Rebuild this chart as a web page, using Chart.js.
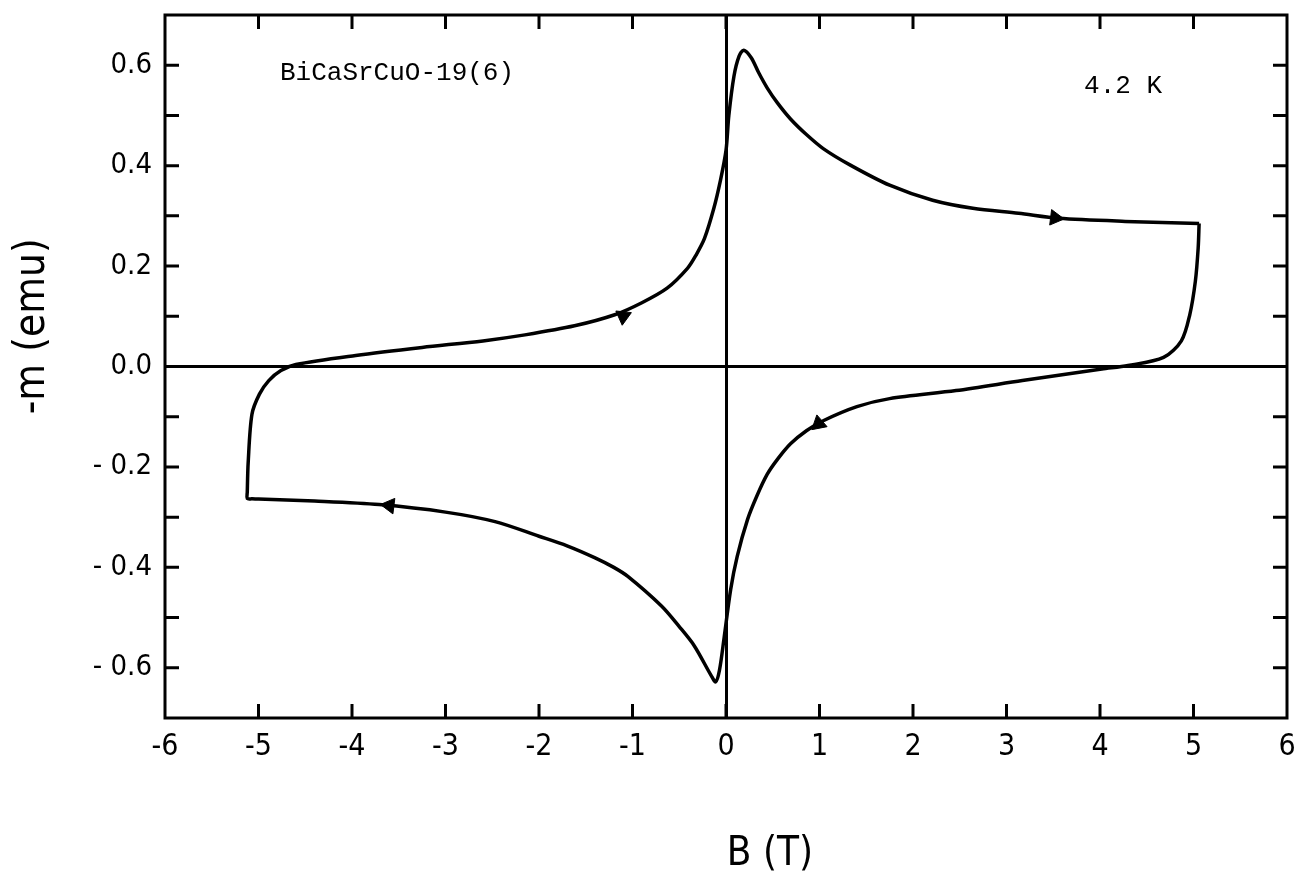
<!DOCTYPE html>
<html>
<head>
<meta charset="utf-8">
<script src="https://cdn.jsdelivr.net/npm/chart.js@4/dist/chart.umd.min.js"></script>
<style>
  html, body { margin: 0; padding: 0; background: #fff; }
</style>
</head>
<body>
<canvas id="loopChart" width="1297" height="875"></canvas>
<script>
// hysteresis loop (field B in T, -m in emu)
const fieldB = [5.06, 5.05, 5.02, 4.96, 4.87, 4.68, 4.30, 4.02, 3.17, 2.46, 1.75, 1.40, 1.04, 0.86, 0.69, 0.55, 0.44, 0.33,
  0.23, 0.12, 0.05, -0.02, -0.07, -0.11, -0.16, -0.34, -0.50, -0.69, -1.05, -1.20, -1.40, -1.70, -2.00, -2.47, -3.00, -3.71, -4.40,
  -5.00, -5.07, -5.12, -5.12, -5.11, -5.07, -4.99, -4.89, -4.76, -4.60, -3.96, -3.25, -2.60, -2.15, -1.62, -1.19, -0.90, -0.63, -0.41,
  -0.32, -0.23, -0.13, -0.06, 0.00, 0.03, 0.085, 0.14, 0.19, 0.27, 0.35, 0.44, 0.55, 0.69, 0.86, 1.04, 1.33, 1.75, 2.21, 2.64, 3.13, 3.56,
  4.27, 5.06];
const minusM = [0.285, 0.236, 0.170, 0.103, 0.051, 0.018, 0.002, -0.005, -0.028, -0.048, -0.064, -0.080, -0.108, -0.128, -0.154, -0.185, -0.215, -0.258,
  -0.305, -0.378, -0.444, -0.540, -0.605, -0.628, -0.615, -0.556, -0.518, -0.477, -0.418, -0.400, -0.381, -0.357, -0.338, -0.309, -0.290, -0.275, -0.268,
  -0.264, -0.2635, -0.263, -0.250, -0.190, -0.095, -0.055, -0.028, -0.008, 0.004, 0.022, 0.038, 0.051, 0.063, 0.081, 0.103, 0.127, 0.156, 0.196,
  0.222, 0.255, 0.315, 0.370, 0.430, 0.499, 0.578, 0.618, 0.630, 0.615, 0.585, 0.555, 0.525, 0.493, 0.462, 0.434, 0.401, 0.361, 0.331, 0.315, 0.305, 0.295,
  0.289, 0.285];

// direction arrows on the loop
const arrowB = [3.52, -1.10, 0.99, -3.60];
const arrowM = [0.296, 0.100, -0.114, -0.277];
const arrowAngle = [97, 66, 229, 277];

const xTickValues = [-6, -5, -4, -3, -2, -1, 0, 1, 2, 3, 4, 5, 6];
const yTickValues = [-0.7, -0.6, -0.5, -0.4, -0.3, -0.2, -0.1, 0, 0.1, 0.2, 0.3, 0.4, 0.5, 0.6, 0.7];

const sampleLabel = "BiCaSrCuO-19(6)";
const tempLabel = "4.2 K";
const xTitle = "B (T)";
const yTitle = "-m (emu)";

const numFont = '"Liberation Sans Narrow", "DejaVu Sans Condensed", "DejaVu Sans", sans-serif';

const loopPoints = fieldB.map((b, i) => ({ x: b, y: minusM[i] }));
const arrowPoints = arrowB.map((b, i) => ({ x: b, y: arrowM[i] }));

// frame, inward ticks on all four sides, and the texts
const frameTicks = {
  id: "frameTicks",
  afterDraw(chart) {
    const { ctx, chartArea: a, scales: { x, y } } = chart;
    ctx.save();
    ctx.strokeStyle = "#000";
    ctx.lineWidth = 3;
    ctx.strokeRect(a.left, a.top, a.right - a.left, a.bottom - a.top);
    ctx.beginPath();
    x.ticks.forEach(t => {
      if (t.value === -6 || t.value === 6) return;
      const px = x.getPixelForValue(t.value);
      ctx.moveTo(px, a.bottom); ctx.lineTo(px, a.bottom - 14);
      ctx.moveTo(px, a.top); ctx.lineTo(px, a.top + 14);
    });
    y.ticks.forEach(t => {
      if (Math.abs(t.value) > 0.65) return;
      const py = y.getPixelForValue(t.value);
      ctx.moveTo(a.left, py); ctx.lineTo(a.left + 14, py);
      ctx.moveTo(a.right, py); ctx.lineTo(a.right - 14, py);
    });
    ctx.stroke();

    ctx.fillStyle = "#000";
    ctx.textBaseline = "middle";
    ctx.textAlign = "left";
    ctx.font = '26px "Liberation Mono", "DejaVu Sans Mono", monospace';
    ctx.fillText(sampleLabel, x.getPixelForValue(-4.77), y.getPixelForValue(0.585));
    ctx.fillText(tempLabel, x.getPixelForValue(3.83), y.getPixelForValue(0.558));

    ctx.font = "40px " + numFont;
    ctx.textAlign = "center";
    ctx.fillText(xTitle, x.getPixelForValue(0.47), 855);
    ctx.font = "42px " + numFont;
    ctx.translate(33, y.getPixelForValue(0.08));
    ctx.rotate(-Math.PI / 2);
    ctx.fillText(yTitle, 0, 0);
    ctx.restore();
  }
};

new Chart(document.getElementById("loopChart"), {
  type: "scatter",
  data: {
    datasets: [
      {
        data: loopPoints,
        showLine: true,
        borderColor: "#000",
        borderWidth: 3.5,
        pointRadius: 0,
        tension: 0.3,
        fill: false
      },
      {
        data: arrowPoints,
        showLine: false,
        pointStyle: "triangle",
        rotation: arrowAngle,
        pointRadius: 9,
        backgroundColor: "#000",
        borderColor: "#000",
        borderWidth: 1
      }
    ]
  },
  options: {
    responsive: false,
    animation: false,
    devicePixelRatio: 1,
    layout: { padding: { top: 15, right: 9, left: 0, bottom: 0 } },
    plugins: { legend: { display: false }, tooltip: { enabled: false } },
    scales: {
      x: {
        type: "linear",
        min: -6,
        max: 6,
        afterBuildTicks: s => { s.ticks = xTickValues.map(v => ({ value: v })); },
        afterFit: s => { s.height = 157; s.paddingLeft = 0; s.paddingRight = 0; },
        border: { display: false },
        grid: {
          drawTicks: false,
          lineWidth: 3,
          color: c => (c.tick && c.tick.value === 0 ? "#000" : "rgba(0,0,0,0)")
        },
        ticks: {
          padding: 11,
          color: "#000",
          font: { family: numFont, size: 30 },
          callback: v => String(v)
        }
      },
      y: {
        type: "linear",
        min: -0.7,
        max: 0.7,
        afterBuildTicks: s => { s.ticks = yTickValues.map(v => ({ value: v })); },
        afterFit: s => { s.width = 165; s.paddingTop = 0; s.paddingBottom = 0; },
        border: { display: false },
        grid: {
          drawTicks: false,
          lineWidth: 3,
          color: c => (c.tick && Math.abs(c.tick.value) < 1e-9 ? "#000" : "rgba(0,0,0,0)")
        },
        ticks: {
          padding: 13,
          color: "#000",
          font: { family: numFont, size: 29 },
          callback: v => {
            const k = Math.round(v * 10);
            if (k % 2 !== 0 || Math.abs(k) === 7) return "";
            if (k === 0) return "0.0";
            return k > 0 ? (k / 10).toFixed(1) : "- " + (-k / 10).toFixed(1);
          }
        }
      }
    }
  },
  plugins: [frameTicks]
});
</script>
</body>
</html>
